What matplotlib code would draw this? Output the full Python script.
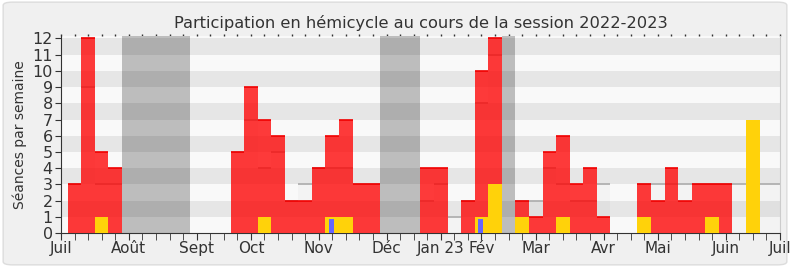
import numpy as np
import matplotlib
matplotlib.use("Agg")
import matplotlib.pyplot as plt
from matplotlib.patches import FancyBboxPatch

# weekly data (week index = position on the x axis, 0 = start of session)
weeks = np.arange(1, 54)
red_vals = [3, 12, 5, 4, 0, 0, 0, 0, 0, 0, 0, 0, 5, 9, 7, 6, 2, 2, 4, 6,
            7, 3, 3, 0, 0, 0, 4, 4, 0, 2, 10, 12, 0, 2, 1, 5, 6, 3, 4, 1,
            0, 0, 3, 2, 4, 2, 3, 3, 3, 0, 0, 0, 0]
yellow_vals = [0, 0, 1, 0, 0, 0, 0, 0, 0, 0, 0, 0, 0, 0, 1, 0, 0, 0, 0, 1,
               1, 0, 0, 0, 0, 0, 0, 0, 0, 0, 1, 3, 0, 1, 0, 0, 1, 0, 0, 0,
               0, 0, 1, 0, 0, 0, 0, 1, 0, 0, 7, 0, 0]
blue_vals = [0, 0, 0, 0, 0, 0, 0, 0, 0, 0, 0, 0, 0, 0, 0, 0, 0, 0, 0, 0.85,
             0, 0, 0, 0, 0, 0, 0, 0, 0, 0, 0.85, 0, 0, 0, 0, 0, 0, 0, 0, 0,
             0, 0, 0, 0, 0, 0, 0, 0, 0, 0, 0, 0, 0]
median_vals = [3, 9, 3, 3, 0, 0, 0, 0, 0, 0, 0, 0, 5, 7, 4, 5, 2, 3, 4, 4,
               4, 3, 3, 0, 0, 0, 2, 3, 1, 2, 8, 11, 0, 2, 2, 4, 3, 2, 2, 3,
               0, 0, 3, 3, 3, 3, 3, 3, 3, 3, 3, 3, 3]
vacations = [(4.5, 9.5), (23.5, 26.5), (32.5, 33.5)]
month_pos = [0, 5, 10, 14, 19, 24, 28, 31, 35, 40, 44, 49, 53]
month_labels = ["Juil", "Août", "Sept", "Oct", "Nov", "Déc", "Jan 23", "Fév",
                "Mar", "Avr", "Mai", "Juin", "Juil"]

red_vals = np.array(red_vals, dtype=float)
yellow_vals = np.array(yellow_vals, dtype=float)
blue_vals = np.array(blue_vals, dtype=float)
median_vals = np.array(median_vals, dtype=float)

txt = "#333333"
fig = plt.figure(figsize=(7.9, 2.67), dpi=100, facecolor="white")
frame = FancyBboxPatch((0.004, 0.008), 0.992, 0.984,
                       boxstyle="round,pad=0,rounding_size=0.012",
                       fc="#f0f0f0", ec="#dcdcdc", lw=1, zorder=-10,
                       transform=fig.transFigure, figure=fig)
fig.patches.append(frame)
ax = fig.add_axes([0.0772, 0.1273, 0.9100, 0.7377])
ax.set_facecolor("#f9f9f9")

# vacation periods
for a, b in vacations:
    ax.axvspan(a, b, color="#bdbdbd", lw=0, zorder=0.5)

# horizontal stripes
for i in range(1, 12, 2):
    ax.axhspan(i, i + 1, color="black", alpha=0.075, lw=0, zorder=1)

# reference level behind the bars
m = median_vals > 0
ax.bar(weeks[m], median_vals[m], width=1, color="black", alpha=0.025,
       lw=0, zorder=2)
ax.hlines(median_vals[m], weeks[m] - 0.5, weeks[m] + 0.5, color="#b0b0b0",
          lw=1.3, zorder=2.5)

# participation
r = red_vals > 0
ax.bar(weeks[r], red_vals[r], width=1, color="#ff0000", alpha=0.77,
       lw=0, zorder=3)
ax.hlines(red_vals[r], weeks[r] - 0.5, weeks[r] + 0.5, color="#f00000",
          lw=1.2, zorder=3.5)

y = yellow_vals > 0
ax.bar(weeks[y], yellow_vals[y], width=1, color="#ffd20a", lw=0, zorder=4)

b = blue_vals > 0
ax.bar(weeks[b] - 0.05, blue_vals[b], width=0.36, color="#6666ff", lw=0,
       zorder=5)

ax.set_xlim(0, 53)
ax.set_ylim(0, 12.15)
ax.set_yticks(range(0, 13))
ax.set_xticks(month_pos)
ax.set_xticklabels(month_labels)
ax.set_xticks(np.arange(0, 54), minor=True)
ax.tick_params(axis="x", which="both", length=5, color=txt, labelsize=11,
               labelcolor=txt, pad=1)
ax.tick_params(axis="y", length=4, color=txt, labelsize=11.5,
               labelcolor=txt, pad=2)

top = ax.secondary_xaxis("top")
top.set_xticks(np.arange(0, 54))
top.tick_params(length=1.5, width=1, color=txt, labeltop=False)
top.spines["top"].set_visible(False)

for s in ["left", "bottom"]:
    ax.spines[s].set_color(txt)
ax.spines["top"].set_visible(False)
ax.spines["right"].set_color("#cccccc")

ax.set_ylabel("Séances par semaine", fontsize=10, color=txt, labelpad=4)
ax.set_title("Participation en hémicycle au cours de la session 2022-2023",
             fontsize=11.7, color=txt, pad=6)

fig.savefig("out.png", dpi=100, facecolor=fig.get_facecolor())
